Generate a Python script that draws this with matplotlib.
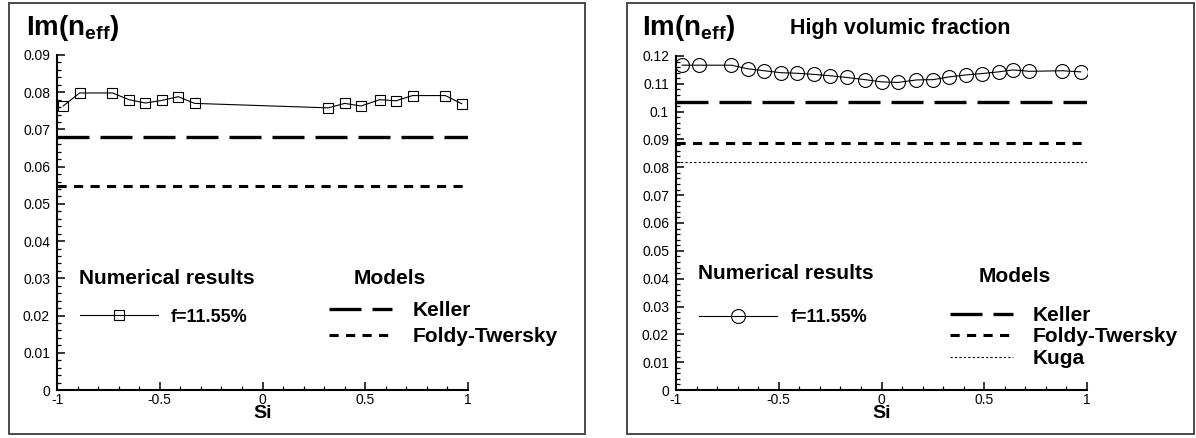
import matplotlib.pyplot as plt
import matplotlib.ticker as mticker
from matplotlib.patches import Rectangle

plt.rcParams['font.family'] = ['Liberation Sans', 'DejaVu Sans']
plt.rcParams['mathtext.fontset'] = 'custom'
plt.rcParams['mathtext.bf'] = 'Liberation Sans:bold'
plt.rcParams['mathtext.rm'] = 'Liberation Sans'

# left panel: numerical results (squares) and models
si_left = [-0.97, -0.89, -0.73, -0.65, -0.57, -0.49, -0.41, -0.33,
           0.32, 0.40, 0.48, 0.57, 0.65, 0.73, 0.89, 0.97]
im_left = [0.0763, 0.0798, 0.0798, 0.0780, 0.0771, 0.0778, 0.0788, 0.0770,
           0.0758, 0.0770, 0.0763, 0.0780, 0.0777, 0.0791, 0.0791, 0.0769]
keller_left = 0.0681
foldy_left = 0.0549

# right panel: high volumic fraction (circles) and models
si_right = [-0.97, -0.89, -0.73, -0.65, -0.57, -0.49, -0.41, -0.33, -0.25,
            -0.17, -0.08, 0.0, 0.08, 0.17, 0.25, 0.33, 0.41, 0.49, 0.57,
            0.64, 0.72, 0.88, 0.97]
im_right = [0.1167, 0.1167, 0.1167, 0.1154, 0.1147, 0.1140, 0.1138, 0.1134,
            0.1129, 0.1123, 0.1115, 0.1107, 0.1105, 0.1114, 0.1115, 0.1125,
            0.1132, 0.1137, 0.1143, 0.1150, 0.1145, 0.1147, 0.1143]
keller_right = 0.1036
foldy_right = 0.0887
kuga_right = 0.0818

data_label = 'f=11.55%'
model_labels = ['Keller', 'Foldy-Twersky', 'Kuga']

W, H = 1196, 438
fig = plt.figure(figsize=(W / 100, H / 100), dpi=100)


def fx(x):
    return x / W


def fy(y):
    return 1 - y / H


# outer boxes
for x0, x1 in [(9, 585), (627, 1194)]:
    fig.add_artist(Rectangle((fx(x0), fy(434)), (x1 - x0) / W, 431 / H,
                             transform=fig.transFigure, fill=False,
                             ec='#4a4a4a', lw=1.4))

ax1 = fig.add_axes([fx(57), fy(390), 411 / W, (390 - 55) / H])
ax2 = fig.add_axes([fx(676), fy(390), 411 / W, (390 - 56) / H])


def style_axis(ax, ymax):
    ax.set_xlim(-1, 1)
    ax.set_ylim(0, ymax)
    for s in ['top', 'right']:
        ax.spines[s].set_visible(False)
    for s in ['left', 'bottom']:
        ax.spines[s].set_linewidth(1.5)
    ax.xaxis.set_major_locator(mticker.MultipleLocator(0.5))
    ax.xaxis.set_minor_locator(mticker.MultipleLocator(0.1))
    ax.yaxis.set_major_locator(mticker.MultipleLocator(0.01))
    ax.yaxis.set_minor_locator(mticker.MultipleLocator(0.002))
    fmt = mticker.FuncFormatter(lambda v, p: '%g' % round(v, 4))
    ax.xaxis.set_major_formatter(fmt)
    ax.yaxis.set_major_formatter(fmt)
    ax.tick_params(which='major', direction='in', length=6, width=1.1,
                   labelsize=10)
    ax.tick_params(which='minor', direction='in', length=3.2, width=0.9)
    ax.tick_params(axis='y', pad=5)
    ax.tick_params(axis='x', pad=2)
    ax.set_xlabel('Si', fontsize=14, fontweight='bold')
    ax.xaxis.set_label_coords(0.5, -0.045)


style_axis(ax1, 0.09)
style_axis(ax2, 0.12)

keller_style = dict(color='black', lw=2.4, linestyle=(0, (9.6, 3.3)))
foldy_style = dict(color='black', lw=2.2, linestyle=(0, (3.0, 2.4)))
kuga_style = dict(color='black', lw=0.8, linestyle=(0, (2, 2)))

l1, = ax1.plot(si_left, im_left, color='black', lw=0.8, marker='s', ms=7.5,
               mfc='none', mec='black', mew=0.8, label=data_label)
k1 = ax1.axhline(keller_left, **keller_style)
f1 = ax1.axhline(foldy_left, **foldy_style)

l2, = ax2.plot(si_right, im_right, color='black', lw=0.8, marker='o', ms=10,
               mfc='none', mec='black', mew=0.8, label=data_label)
k2 = ax2.axhline(keller_right, **keller_style)
f2 = ax2.axhline(foldy_right, **foldy_style)
g2 = ax2.axhline(kuga_right, **kuga_style)

# titles
fig.text(fx(26), fy(35), r'$\mathbf{Im(n_{eff})}$', fontsize=20, va='baseline')
fig.text(fx(642), fy(35), r'$\mathbf{Im(n_{eff})}$', fontsize=20, va='baseline')
fig.text(fx(790), fy(34), 'High volumic fraction', fontsize=15.5,
         fontweight='bold', va='baseline')

# legend headings
fig.text(fx(79), fy(284), 'Numerical results', fontsize=15, fontweight='bold', va='baseline')
fig.text(fx(354), fy(284), 'Models', fontsize=15, fontweight='bold', va='baseline')
fig.text(fx(698), fy(279), 'Numerical results', fontsize=15, fontweight='bold', va='baseline')
fig.text(fx(979), fy(282), 'Models', fontsize=15, fontweight='bold', va='baseline')

bold13 = dict(weight='bold', size=13)
bold15 = dict(weight='bold', size=15)

leg = ax1.legend([l1], [data_label], loc='center left',
                 bbox_to_anchor=(fx(80), fy(317)), bbox_transform=fig.transFigure,
                 frameon=False, borderpad=0, borderaxespad=0, prop=bold13,
                 handlelength=4.33, handletextpad=0.67)
ax1.add_artist(leg)
ax1.legend([k1, f1], model_labels[:2], loc='upper left',
           bbox_to_anchor=(fx(329), fy(301)), bbox_transform=fig.transFigure,
           frameon=False, borderpad=0, borderaxespad=0, prop=bold15,
           handlelength=3.03, handletextpad=0.96, labelspacing=0.34)

leg = ax2.legend([l2], [data_label], loc='center left',
                 bbox_to_anchor=(fx(699), fy(318)), bbox_transform=fig.transFigure,
                 frameon=False, borderpad=0, borderaxespad=0, prop=bold13,
                 handlelength=4.33, handletextpad=0.73)
ax2.add_artist(leg)
ax2.legend([k2, f2, g2], model_labels, loc='upper left',
           bbox_to_anchor=(fx(950), fy(306)), bbox_transform=fig.transFigure,
           frameon=False, borderpad=0, borderaxespad=0, prop=bold15,
           handlelength=3.03, handletextpad=0.96, labelspacing=0.12)

fig.savefig('out.png', dpi=100)
